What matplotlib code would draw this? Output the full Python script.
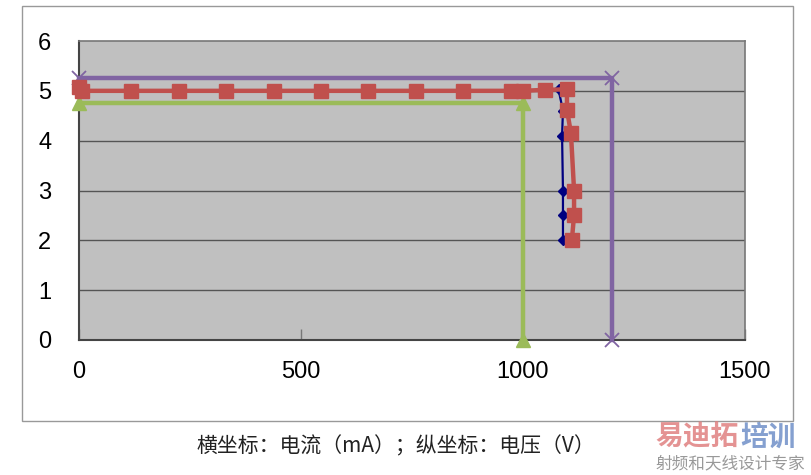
import matplotlib
matplotlib.use("Agg")
import matplotlib.pyplot as plt
from matplotlib.patches import Rectangle

# Data
purple_x = [0, 1200, 1200]
purple_y = [5.25, 5.25, 0]
green_x = [0, 1000, 1000]
green_y = [4.75, 4.75, 0]
blue_x = [0, 118, 225, 330, 439, 545, 650, 759, 865, 972, 999, 1050, 1080, 1090, 1088, 1090, 1090, 1090]
blue_y = [5.0, 5.0, 5.0, 5.0, 5.0, 5.0, 5.0, 5.0, 5.0, 5.0, 5.0, 5.02, 5.03, 4.6, 4.1, 3.0, 2.5, 2.0]
red_x = [0, 6, 118, 225, 330, 439, 545, 650, 759, 865, 972, 999, 1050, 1099, 1099, 1108, 1115, 1115, 1110]
red_y = [5.07, 5.0, 5.0, 5.0, 5.0, 5.0, 5.0, 5.0, 5.0, 5.0, 5.0, 5.0, 5.02, 5.03, 4.62, 4.15, 3.0, 2.5, 2.0]
xticks = [0, 500, 1000, 1500]
yticks = [0, 1, 2, 3, 4, 5, 6]
caption = "横坐标：电流（mA）；纵坐标：电压（V）"

plt.rcParams['font.family'] = ['Liberation Sans', 'DejaVu Sans']

fig = plt.figure(figsize=(8.12, 4.75), dpi=100)
ax = fig.add_axes([79/812, 1-340/475, (745-79)/812, (340-41)/475])
ax.set_facecolor('#C0C0C0')
ax.set_xlim(0, 1500)
ax.set_ylim(0, 6)

for yv in yticks[1:-1]:
    ax.axhline(yv, color='#555555', lw=1, zorder=1)

ax.plot(purple_x, purple_y, color='#8064A2', lw=3.2, marker='x', ms=10, mew=1.3, zorder=3, clip_on=False)
ax.plot(green_x, green_y, color='#9BBB59', lw=3.2, marker='^', ms=10, zorder=3, clip_on=False)
ax.plot(blue_x, blue_y, color='#000080', lw=1.6, marker='D', ms=5, zorder=4, clip_on=False)
ax.plot(red_x, red_y, color='#C0504D', lw=3.2, marker='s', ms=10, zorder=5, clip_on=False)

ax.set_xticks(xticks)
ax.set_yticks(yticks)
ax.set_xticklabels([str(v) for v in xticks], fontsize=17)
ax.set_yticklabels([str(v) for v in yticks], fontsize=17)
ax.tick_params(axis='x', direction='in', length=8, width=1, color='#777777', pad=15)
ax.tick_params(axis='y', length=0, pad=20)

for s in ['left', 'bottom']:
    ax.spines[s].set_color('#444444')
    ax.spines[s].set_linewidth(1.5)
for s in ['top', 'right']:
    ax.spines[s].set_color('#777777')
    ax.spines[s].set_linewidth(1.2)

fig.patches.append(Rectangle((22/812, 1-421/475), (793-22)/812, (421-6)/475,
                             transform=fig.transFigure, fill=False,
                             edgecolor='#999999', lw=1))

fig.text(396/812, 1-446/475, caption, ha='center', va='center', fontsize=15,
         family=['Noto Sans CJK SC', 'DejaVu Sans'], color='#222222')

fig.text(655/812, 1-438/475, "易迪拓", ha='left', va='center', fontsize=20,
         family=['Noto Sans CJK SC'], color='#E08080', alpha=0.85, fontweight='bold')
fig.text(740/812, 1-438/475, "培训", ha='left', va='center', fontsize=20,
         family=['Noto Sans CJK SC'], color='#7090C8', alpha=0.85, fontweight='bold')
fig.text(730/812, 1-464/475, "射频和天线设计专家", ha='center', va='center', fontsize=12,
         family=['Noto Sans CJK SC'], color='#999999')

fig.savefig('out.png', dpi=100)
